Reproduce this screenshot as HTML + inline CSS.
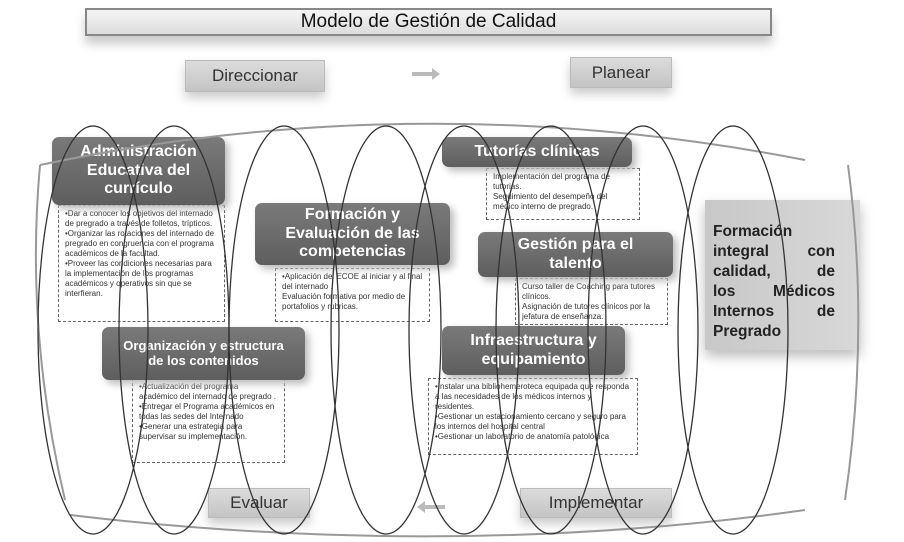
<!DOCTYPE html>
<html><head><meta charset="utf-8"><style>
body{margin:0;width:904px;height:542px;background:#fff;position:relative;overflow:hidden;font-family:"Liberation Sans",sans-serif}
.a{position:absolute}
.hd{position:absolute;background:linear-gradient(#7a7a7a,#5e5e5e);border-radius:7px;color:#fff;font-family:"Liberation Sans Narrow","Liberation Sans",sans-serif;font-weight:bold;text-align:center;box-shadow:4px 4px 8px #bbb;display:flex;align-items:center;justify-content:center;line-height:1.15}
.nt{position:absolute;border:1px dashed #666;background:#fff;font-size:8px;line-height:10px;color:#333;padding:3px 6px;box-sizing:border-box}
.pb{position:absolute;background:linear-gradient(#dcdcdc,#c4c4c4);border:1px solid #bbb;color:#333;font-size:17px;display:flex;align-items:center;justify-content:center;box-shadow:0 6px 10px #ccc}
.fl{display:flex;justify-content:space-between}
</style></head><body>
<div class="a" style="left:85px;top:8px;width:683px;height:24px;border:2px solid #888;background:linear-gradient(#f4f4f4,#ddd);text-align:center;font-size:19px;line-height:24px;color:#111;box-shadow:0 8px 10px #ccc">Modelo de Gestión de Calidad</div>
<div class="pb" style="left:185px;top:60px;width:138px;height:30px">Direccionar</div>
<div class="pb" style="left:570px;top:57px;width:100px;height:29px">Planear</div>
<div class="pb" style="left:208px;top:488px;width:100px;height:28px">Evaluar</div>
<div class="pb" style="left:520px;top:488px;width:150px;height:28px">Implementar</div>
<div class="a" style="left:705px;top:200px;width:155px;height:150px;background:linear-gradient(90deg,#c8c8c8,#d8d8d8);box-shadow:0 6px 12px #bbb"></div>
<div class="a" style="left:713px;top:222px;width:122px;font-size:15.5px;font-weight:bold;line-height:20px;color:#222">
<div>Formación</div><div class="fl"><span>integral</span><span>con</span></div><div class="fl"><span>calidad,</span><span>de</span></div><div class="fl"><span>los</span><span>Médicos</span></div><div class="fl"><span>Internos</span><span>de</span></div><div>Pregrado</div></div>

<div class="nt" style="left:58px;top:205px;width:167px;height:117px">•Dar a conocer los objetivos del internado de pregrado a través de folletos, trípticos.<br>•Organizar las rotaciones del internado de pregrado en congruencia con el programa académicos de la facultad.<br>•Proveer las condiciones necesarias para la implementación de los programas académicos y operativos sin que se interfieran.</div>
<div class="hd" style="left:52px;top:137px;width:173px;height:68px;font-size:16px">Administración<br>Educativa del<br>currículo</div>
<div class="nt" style="left:275px;top:268px;width:155px;height:54px">•Aplicación del ECOE al iniciar y al final del internado .<br>Evaluación formativa por medio de portafolios y rubricas.</div>
<div class="hd" style="left:255px;top:203px;width:195px;height:62px;font-size:16px">Formación y<br>Evaluación de las<br>competencias</div>
<div class="nt" style="left:132px;top:378px;width:153px;height:85px">•Actualización del programa académico del internado de pregrado .<br>•Entregar el Programa académicos en todas las sedes del Internado<br>•Generar una estrategia para supervisar su implementación.</div>
<div class="hd" style="left:102px;top:327px;width:203px;height:53px;font-size:13px">Organización y estructura<br>de los contenidos</div>
<div class="nt" style="left:486px;top:168px;width:154px;height:52px">Implementación del programa de tutorias.<br>Seguimiento del desempeño del médico interno de pregrado.</div>
<div class="hd" style="left:442px;top:137px;width:190px;height:30px;font-size:16px">Tutorías clínicas</div>
<div class="nt" style="left:515px;top:278px;width:153px;height:47px">Curso taller de Coaching para tutores clínicos.<br>Asignación de tutores clínicos por la jefatura de enseñanza.</div>
<div class="hd" style="left:478px;top:232px;width:195px;height:45px;font-size:16px">Gestión para el<br>talento</div>
<div class="nt" style="left:428px;top:378px;width:210px;height:77px">•Instalar una bibliohemeroteca equipada que responda a las necesidades de los médicos internos y residentes.<br>•Gestionar un estacionamiento cercano y seguro para los internos del hospital central<br>•Gestionar un laboratorio de anatomía patológica</div>
<div class="hd" style="left:442px;top:326px;width:183px;height:49px;font-size:16px">Infraestructura y<br>equipamiento</div>

<svg class="a" style="left:0;top:0" width="904" height="542">
<g fill="none" stroke="#999" stroke-width="2">
<path d="M40 165 Q420 85 805 160"/>
<path d="M70 515 Q450 560 805 510"/>
<path d="M40 165 Q25 330 65 500"/>
<path d="M848 165 Q870 330 845 500"/>
</g>
<path d="M412 72 h20 v-4 l8 6 -8 6 v-4 h-20z" fill="#bbb"/>
<path d="M445 505 h-20 v-4 l-8 6 8 6 v-4 h20z" fill="#bbb"/>
<g fill="none" stroke="#333" stroke-width="1.3">
<ellipse cx="93" cy="330" rx="55" ry="204"/>
<ellipse cx="174" cy="330" rx="55" ry="204"/>
<ellipse cx="284" cy="330" rx="55" ry="204"/>
<ellipse cx="386" cy="330" rx="55" ry="204"/>
<ellipse cx="464" cy="330" rx="55" ry="204"/>
<ellipse cx="551" cy="330" rx="55" ry="204"/>
<ellipse cx="643" cy="330" rx="55" ry="204"/>
<ellipse cx="733" cy="330" rx="55" ry="204"/>
</g>
</svg>
</body></html>
